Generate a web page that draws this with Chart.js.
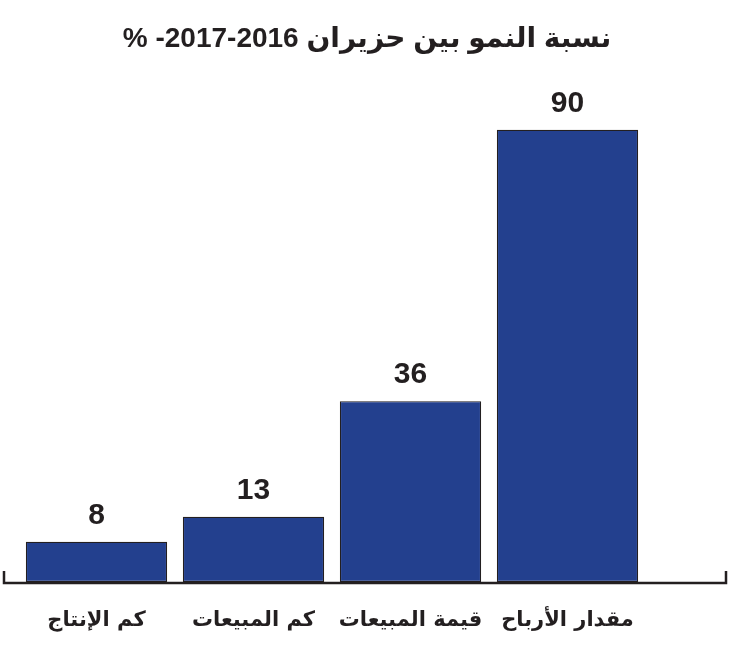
<!DOCTYPE html>
<html>
<head>
<meta charset="utf-8">
<script src="https://cdn.jsdelivr.net/npm/chart.js@4"></script>
<style>
  html, body { margin: 0; padding: 0; background: #ffffff; }
  #wrap { width: 734px; height: 647px; }
</style>
</head>
<body>
<div id="wrap"><canvas id="c"></canvas></div>
<script>
// Data
const categories = ["كم الإنتاج", "كم المبيعات", "قيمة المبيعات", "مقدار الأرباح"];
const growthValues = [8, 13, 36, 90];
const titleText = "% -2017-2016 " + "نسبة النمو بين حزيران";

const FONT = "'Liberation Sans', 'DejaVu Sans', sans-serif";
const ARABIC_FONT = "'DejaVu Sans', 'Noto Sans', sans-serif";

const baselinePlugin = {
  id: 'baseline',
  afterDatasetsDraw(chart) {
    const { ctx, chartArea } = chart;
    const y = chart.scales.y.getPixelForValue(0) + 1;
    const x0 = chartArea.left - 14;
    const x1 = chartArea.right + 80;
    ctx.save();
    ctx.strokeStyle = '#231f20';
    ctx.lineWidth = 2.5;
    ctx.beginPath();
    ctx.moveTo(x0, y - 12);
    ctx.lineTo(x0, y);
    ctx.lineTo(x1, y);
    ctx.lineTo(x1, y - 12);
    ctx.stroke();
    ctx.restore();
  }
};

const valueLabelPlugin = {
  id: 'valueLabels',
  afterDatasetsDraw(chart) {
    const { ctx } = chart;
    const meta = chart.getDatasetMeta(0);
    ctx.save();
    ctx.font = "bold 30px " + FONT;
    ctx.fillStyle = '#231f20';
    ctx.textAlign = 'center';
    ctx.textBaseline = 'alphabetic';
    meta.data.forEach((bar, i) => {
      ctx.fillText(String(growthValues[i]), bar.x, bar.y - 18);
    });
    ctx.restore();
  }
};

new Chart(document.getElementById('c'), {
  type: 'bar',
  data: {
    labels: categories,
    datasets: [{
      data: growthValues,
      backgroundColor: '#23408e',
      borderColor: '#231f20',
      borderWidth: 1.2,
      borderSkipped: false,
      barPercentage: 0.9,
      categoryPercentage: 1.0
    }]
  },
  options: {
    responsive: true,
    maintainAspectRatio: false,
    animation: false,
    layout: { padding: { left: 0, right: 0, top: 0, bottom: 0 } },
    plugins: {
      legend: { display: false },
      tooltip: { enabled: false },
      title: {
        display: true,
        text: titleText,
        color: '#231f20',
        font: { family: FONT, size: 28, weight: 'bold', lineHeight: 1.2 },
        padding: { top: 22, bottom: 24 }
      }
    },
    scales: {
      x: {
        grid: { display: false, drawTicks: false },
        border: { display: false },
        afterFit: (s) => { s.height = 65; },
        ticks: {
          color: '#231f20',
          padding: 26,
          maxRotation: 0,
          font: { family: ARABIC_FONT, size: 21, weight: 'bold', lineHeight: 1.2 }
        }
      },
      y: {
        display: true,
        position: 'left',
        min: 0,
        max: 100,
        grid: { display: false, drawTicks: false },
        border: { display: false },
        ticks: { display: false },
        afterFit: (s) => { s.width = 18; }
      },
      y2: {
        display: true,
        position: 'right',
        min: 0,
        max: 100,
        grid: { display: false, drawTicks: false },
        border: { display: false },
        ticks: { display: false },
        afterFit: (s) => { s.width = 88; }
      }
    }
  },
  plugins: [baselinePlugin, valueLabelPlugin]
});
</script>
</body>
</html>
